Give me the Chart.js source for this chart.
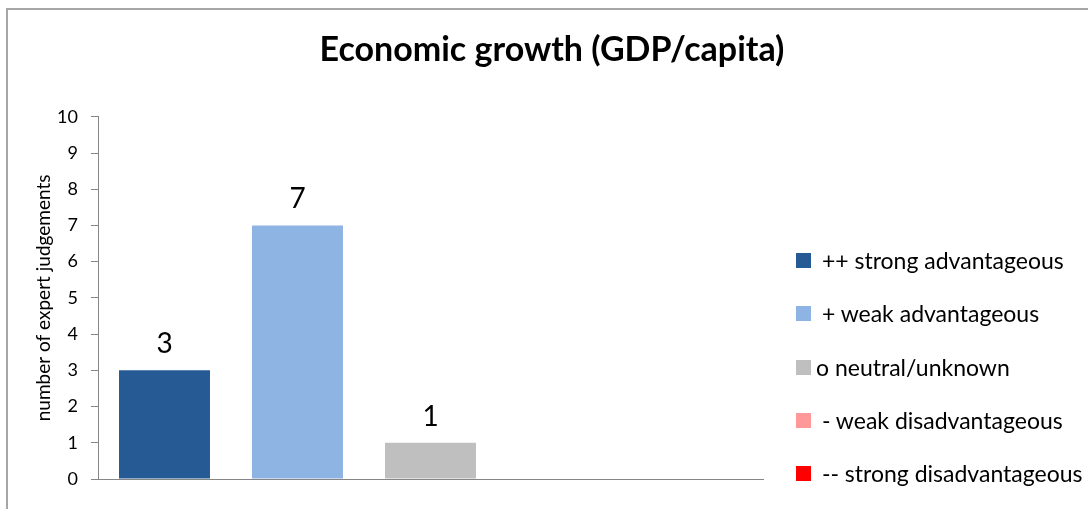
<!DOCTYPE html>
<html>
<head>
<meta charset="utf-8">
<script src="https://cdn.jsdelivr.net/npm/chart.js@4"></script>
<style>
    html, body { margin: 0; padding: 0; background: #fff; overflow: hidden; }
    body { width: 1088px; height: 509px; position: relative; }
    #frame {
        position: absolute; left: 6px; top: 8px; width: 1200px; height: 600px;
        border-top: 2px solid #a6a6a6; border-left: 2px solid #a6a6a6;
    }
    #wrap { position: absolute; left: 0; top: 0; width: 1104px; height: 509px; }
    #legend { position: absolute; left: 796px; top: 0; font-family: Lato, sans-serif; font-size: 23px; color: #000; }
    .item { position: absolute; left: 0; white-space: pre; line-height: 23px; height: 23px; }
    .swatch { position: absolute; left: 0; top: 4px; width: 15px; height: 15px; }
    .text { position: absolute; left: 20px; top: 0; }
</style>
</head>
<body>
<div id="frame"></div>
<div id="wrap"><canvas id="chart" width="1104" height="509"></canvas></div>
<div id="legend"></div>
<script>
var judgementLabels = [' ++ strong advantageous', ' + weak advantageous', 'o neutral/unknown', ' - weak disadvantageous', ' -- strong disadvantageous'];
var judgementCounts = [3, 7, 1, 0, 0];
var judgementColors = ['#265a94', '#8eb4e3', '#bfbfbf', '#ff9999', '#ff0000'];
var yTicks = [0, 1, 2, 3, 4, 5, 6, 7, 8, 9, 10];

// value above each bar, zero counts get no label
var barValueLabels = {
    id: 'barValueLabels',
    afterDatasetsDraw: function(chart) {
        var ctx = chart.ctx;
        ctx.save();
        ctx.font = '28px Lato';
        ctx.fillStyle = '#000';
        ctx.textAlign = 'center';
        ctx.textBaseline = 'alphabetic';
        chart.data.datasets.forEach(function(ds, i) {
            var value = ds.data[0];
            if (!value) return;
            var bar = chart.getDatasetMeta(i).data[0];
            ctx.fillText(String(value), bar.x, bar.y - 17);
        });
        ctx.restore();
    }
};

function renderJudgementChart(ctx) {
    var datasets = judgementLabels.map(function(label, i) {
        return {
            label: label,
            data: [judgementCounts[i]],
            backgroundColor: judgementColors[i],
            borderWidth: 0,
            categoryPercentage: 1.0,
            barPercentage: 0.684
        };
    });

    return new Chart(ctx, {
        type: 'bar',
        data: { labels: [''], datasets: datasets },
        options: {
            responsive: false,
            animation: false,
            layout: { padding: { left: 0, right: 0, top: 0, bottom: 30 } },
            plugins: {
                legend: { display: false },
                tooltip: { enabled: false },
                title: {
                    display: true,
                    text: 'Economic growth (GDP/capita)',
                    color: '#000',
                    font: { family: 'Lato', size: 34, weight: 'bold' },
                    padding: { top: 30, bottom: 46 }
                }
            },
            scales: {
                x: {
                    ticks: { display: false },
                    grid: { display: false },
                    border: { display: true, color: '#868686', width: 1 },
                    afterFit: function(scale) { scale.height = 0; }
                },
                y: {
                    min: 0,
                    max: 10,
                    afterBuildTicks: function(scale) {
                        scale.ticks = yTicks.map(function(v) { return { value: v }; });
                    },
                    ticks: {
                        color: '#000',
                        font: { family: 'Lato', size: 18 },
                        padding: 13
                    },
                    grid: {
                        drawOnChartArea: false,
                        drawTicks: true,
                        tickLength: 7,
                        tickColor: '#868686'
                    },
                    border: { display: true, color: '#868686', width: 1 },
                    title: {
                        display: true,
                        text: 'number of expert judgements',
                        color: '#000',
                        font: { family: 'Lato', size: 19 },
                        padding: { top: 32, bottom: 0 }
                    },
                    afterFit: function(scale) { scale.width = 98; }
                },
                // empty right-hand box that keeps room for the legend column
                legendSpace: {
                    type: 'linear',
                    position: 'right',
                    display: true,
                    ticks: { display: false },
                    grid: { display: false },
                    border: { display: false },
                    afterFit: function(scale) { scale.width = 341; }
                }
            }
        },
        plugins: [barValueLabels]
    });
}

function renderLegend(el) {
    var rowCenters = [260, 313, 367, 420, 473];
    judgementLabels.forEach(function(label, i) {
        var item = document.createElement('div');
        item.className = 'item';
        item.style.top = (rowCenters[i] - 11.5) + 'px';
        var sw = document.createElement('span');
        sw.className = 'swatch';
        sw.style.background = judgementColors[i];
        var tx = document.createElement('span');
        tx.className = 'text';
        tx.textContent = label;
        item.appendChild(sw);
        item.appendChild(tx);
        el.appendChild(item);
    });
}

renderJudgementChart(document.getElementById('chart').getContext('2d'));
renderLegend(document.getElementById('legend'));
</script>
</body>
</html>
